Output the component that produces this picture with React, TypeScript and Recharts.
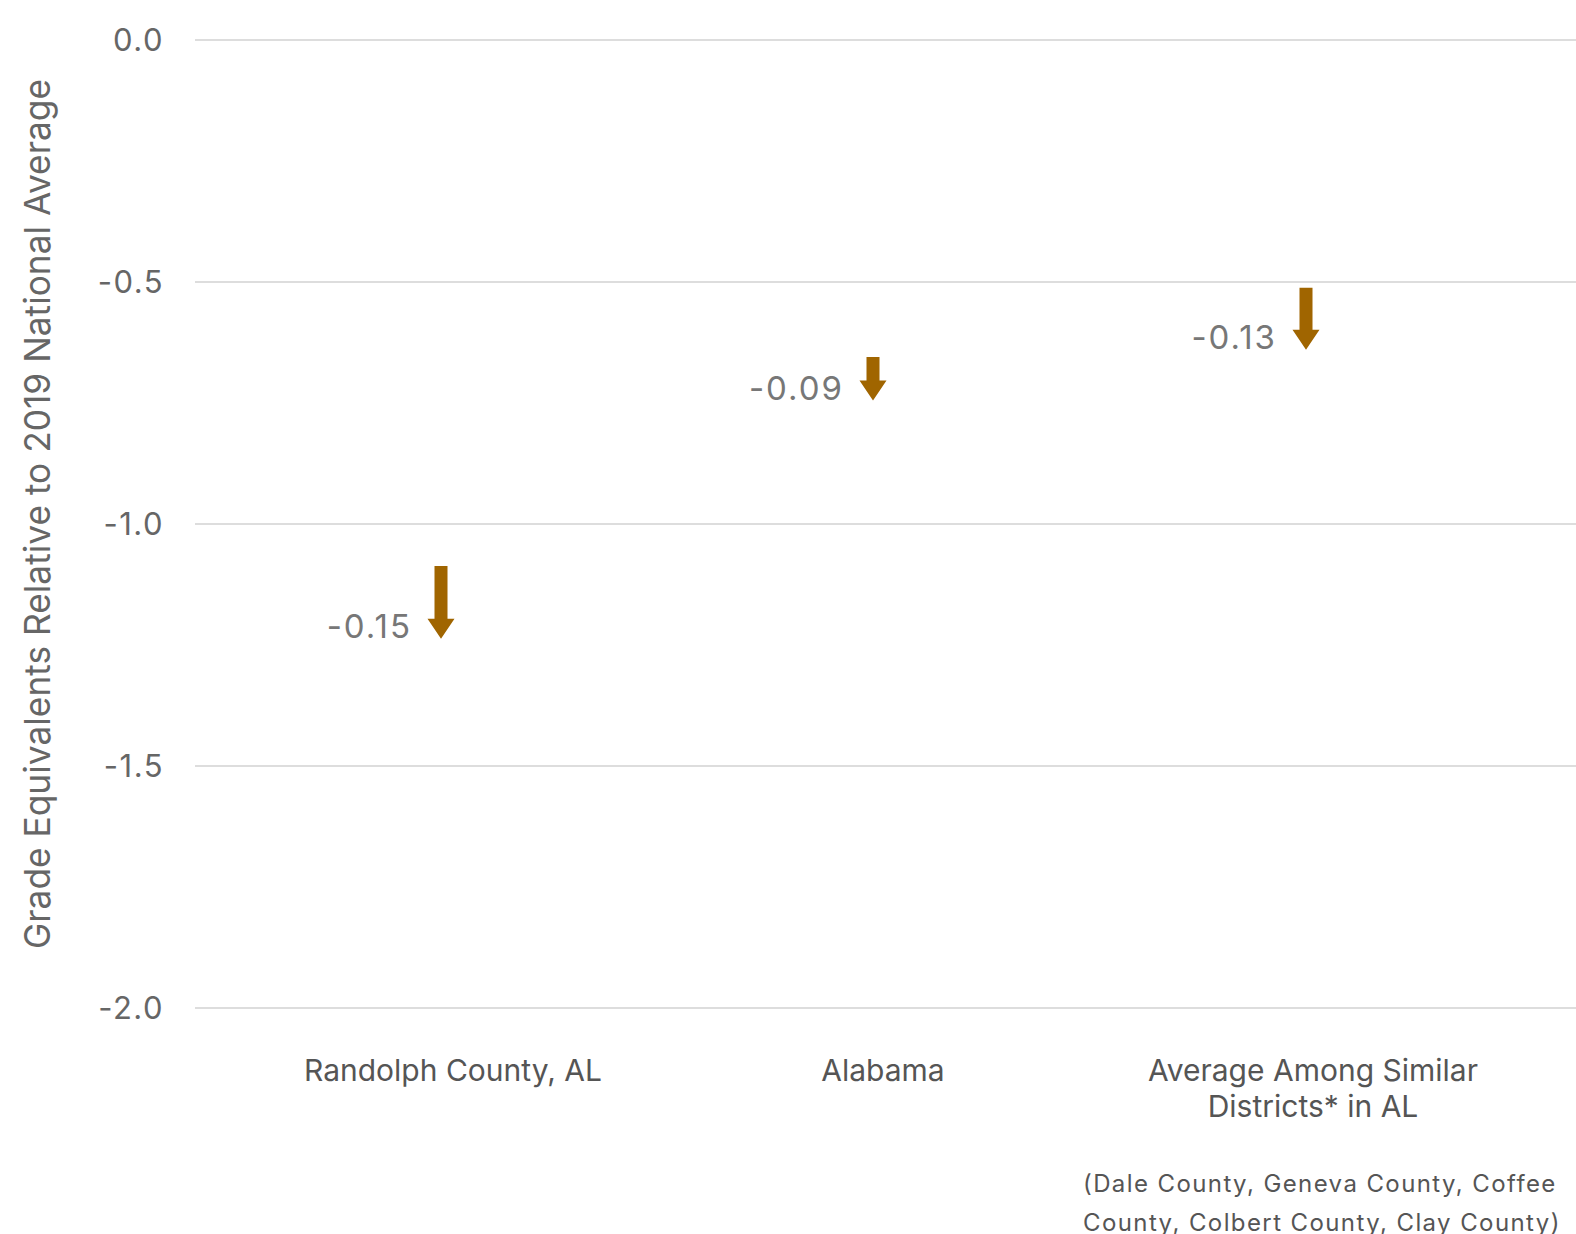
import React from "react";
import { ComposedChart, Bar, XAxis, YAxis, CartesianGrid } from "recharts";

const categories = ["Randolph County, AL", "Alabama", "Average Among Similar Districts* in AL"];
const categoryLines = [["Randolph County, AL"], ["Alabama"], ["Average Among Similar", "Districts* in AL"]];
const startValues = [-1.087, -0.655, -0.512];
const endValues = [-1.237, -0.745, -0.640];
const changeLabels = ["-0.15", "-0.09", "-0.13"];
const yTicks = [0, -0.5, -1.0, -1.5, -2.0];
const footnoteLines = ["(Dale County, Geneva County, Coffee", "County, Colbert County, Clay County)"];
const yTitle = "Grade Equivalents Relative to 2019 National Average";

const data = categories.map((c, i) => ({
  name: c,
  range: [endValues[i], startValues[i]],
  label: changeLabels[i],
  idx: i,
}));

const ARROW = "#A06500";
const arrowOffsets = [-12, -10, -7];
const FONT = "Inter, sans-serif";

const ArrowShape = (props: any) => {
  const { x, y, width, height, payload } = props;
  const top = Math.min(y, y + height);
  const bottom = Math.max(y, y + height);
  const cx = x + width / 2 + arrowOffsets[payload.idx];
  const shaftW = 13;
  const headW = 27;
  const headH = 20;
  const d = `M${cx - shaftW / 2},${top} L${cx + shaftW / 2},${top} L${cx + shaftW / 2},${bottom - headH} L${cx + headW / 2},${bottom - headH} L${cx},${bottom} L${cx - headW / 2},${bottom - headH} L${cx - shaftW / 2},${bottom - headH} Z`;
  return (
    <g>
      <path d={d} fill={ARROW} />
      <text
        x={cx - 29}
        y={bottom - 13}
        textAnchor="end"
        dominantBaseline="central"
        fontFamily={FONT}
        fontSize={33}
        letterSpacing={2}
        fill="#777"
      >
        {payload.label}
      </text>
    </g>
  );
};

const XTick = (props: any) => {
  const { x, y, index } = props;
  const lines = categoryLines[index] || [];
  return (
    <g>
      {lines.map((l, i) => (
        <text
          key={i}
          x={x}
          y={y + 54 + i * 36}
          textAnchor="middle"
          dominantBaseline="central"
          fontFamily={FONT}
          fontSize={30}
          fill="#555"
        >
          {l}
        </text>
      ))}
      {index === 2 &&
        footnoteLines.map((l, i) => (
          <text
            key={"f" + i}
            x={x - 230}
            y={y + 167 + i * 39}
            textAnchor="start"
            dominantBaseline="central"
            fontFamily={FONT}
            fontSize={24}
            letterSpacing={1.4}
            fill="#555"
          >
            {l}
          </text>
        ))}
    </g>
  );
};

const YTitle = (props: any) => {
  const { viewBox } = props;
  const cx = 37;
  const cy = viewBox.y + viewBox.height / 2 - 10;
  return (
    <text
      x={cx}
      y={cy}
      transform={`rotate(-90, ${cx}, ${cy})`}
      textAnchor="middle"
      dominantBaseline="central"
      fontFamily={FONT}
      fontSize={35.3}
      fill="#666"
    >
      {yTitle}
    </text>
  );
};

export default function App() {
  return (
    <div style={{ position: "absolute", left: 0, top: 0, width: 1576, height: 1234, overflow: "hidden" }}>
      <ComposedChart
        width={1576}
        height={1234}
        data={data}
        margin={{ top: 40, right: 0, bottom: 0, left: 0 }}
      >
        <CartesianGrid vertical={false} stroke="#ddd" strokeWidth={2} />
        <XAxis
          dataKey="name"
          axisLine={false}
          tickLine={false}
          height={226}
          interval={0}
          padding={{ left: 43, right: 48 }}
          tick={<XTick />}
        />
        <YAxis
          type="number"
          domain={[-2, 0]}
          ticks={yTicks}
          width={195}
          axisLine={false}
          tickLine={false}
          tickMargin={25}
          tickFormatter={(v: number) => v.toFixed(1)}
          tick={{ fontFamily: FONT, fontSize: 31, letterSpacing: 1.5, fill: "#666" }}
          label={{ content: <YTitle /> }}
        />
        <Bar dataKey="range" barSize={14} shape={<ArrowShape />} isAnimationActive={false} />
      </ComposedChart>
    </div>
  );
}
